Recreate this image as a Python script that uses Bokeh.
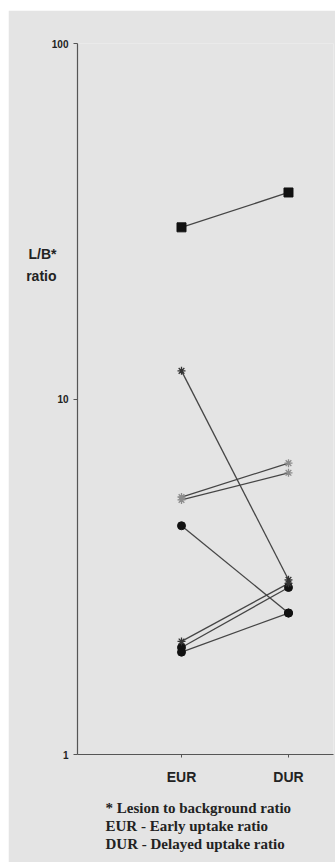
from bokeh.plotting import figure
from bokeh.models import FixedTicker, NumeralTickFormatter, Range1d, Title, LogAxis
from bokeh.embed import file_html
from bokeh.resources import INLINE

# ---- data ----
categories = ["EUR", "DUR"]
y_ticks = [1, 10, 100]

series_square = [30.4, 38.1]
series_star_high = [12.0, 3.1]
series_x_a = [5.3, 6.6]
series_x_b = [5.2, 6.2]
series_circle_a = [4.4, 2.5]
series_star_low = [2.08, 3.03]
series_circle_b = [2.0, 2.95]
series_circle_c = [1.94, 2.5]

y_title_lines = ["L/B*", "ratio"]
footnotes = ["* Lesion to background ratio",
             "EUR - Early uptake ratio",
             "DUR - Delayed uptake ratio"]

xpos = list(range(1, len(categories) + 1))

BG = "#e4e4e4"
LINE = "#454545"

p = figure(width=327, height=852, y_axis_type="log",
           x_range=Range1d(0.028, 2.4206), y_range=Range1d(1, 100),
           output_backend="svg", toolbar_location=None,
           min_border_left=69, min_border_right=2, min_border_top=33,
           min_border_bottom=108)
p.margin = (10, 0, 0, 8)
p.background_fill_color = BG
p.border_fill_color = BG
p.outline_line_color = None
p.xgrid.grid_line_color = None
p.ygrid.grid_line_color = None

# lines
for s in [series_square, series_star_high, series_x_a, series_x_b,
          series_circle_a, series_star_low, series_circle_b, series_circle_c]:
    p.line(xpos, s, line_color=LINE, line_width=1.3)

# markers
p.scatter(xpos, series_x_a, marker="asterisk", size=8, line_color="#8c8c8c", line_width=1.3)
p.scatter(xpos, series_x_b, marker="asterisk", size=8, line_color="#8c8c8c", line_width=1.3)
p.scatter(xpos, series_square, marker="square", size=9, fill_color="#111111", line_color="#111111")
p.scatter(xpos, series_circle_a, marker="circle", size=8, fill_color="#111111", line_color="#111111")
p.scatter(xpos, series_circle_b, marker="circle", size=8, fill_color="#111111", line_color="#111111")
p.scatter(xpos, series_circle_c, marker="circle", size=8, fill_color="#111111", line_color="#111111")
p.scatter(xpos, series_star_high, marker="asterisk", size=8, line_color="#333333", line_width=1.3)
p.scatter(xpos, series_star_low, marker="asterisk", size=8, line_color="#333333", line_width=1.3)

# axes
p.xaxis.ticker = FixedTicker(ticks=xpos)
p.xaxis.major_label_overrides = {x: c for x, c in zip(xpos, categories)}
p.yaxis.ticker = FixedTicker(ticks=y_ticks)
p.yaxis.formatter = NumeralTickFormatter(format="0")
for ax in [p.xaxis[0], p.yaxis[0]]:
    ax.axis_line_color = "#555555"
    ax.axis_line_width = 1.2
    ax.major_tick_line_color = "#555555"
    ax.major_tick_in = 0
    ax.minor_tick_line_color = None
    ax.major_label_text_font = "Liberation Sans"
    ax.major_label_text_font_style = "bold"
    ax.major_label_text_color = "#222222"
p.xaxis.major_tick_out = 3
p.xaxis.major_label_standoff = 11
p.xaxis.major_label_text_font_size = "14px"
p.yaxis.major_tick_out = 4
p.yaxis.major_label_standoff = 5
p.yaxis.major_label_text_font_size = "10px"

# y-axis title drawn as a tick-less outer axis (two lines)
title_pos = [25.5, 22.2]
yt = LogAxis(ticker=FixedTicker(ticks=title_pos),
             major_label_overrides={v: t for v, t in zip(title_pos, y_title_lines)},
             axis_line_color=None, major_tick_line_color=None, minor_tick_line_color=None,
             major_label_standoff=-14, major_label_text_font="Liberation Sans",
             major_label_text_font_style="bold", major_label_text_font_size="14px",
             major_label_text_color="#222222")
p.add_layout(yt, "left")

# footnotes (one multi-line title below the axis)
p.add_layout(Title(text="\n".join(footnotes), align="left", offset=28, standoff=20,
                   text_font="Liberation Serif", text_font_style="bold",
                   text_font_size="15px", text_line_height=1.15,
                   text_color="#222222"), "below")

open("out.html", "w").write(file_html(p, INLINE))
